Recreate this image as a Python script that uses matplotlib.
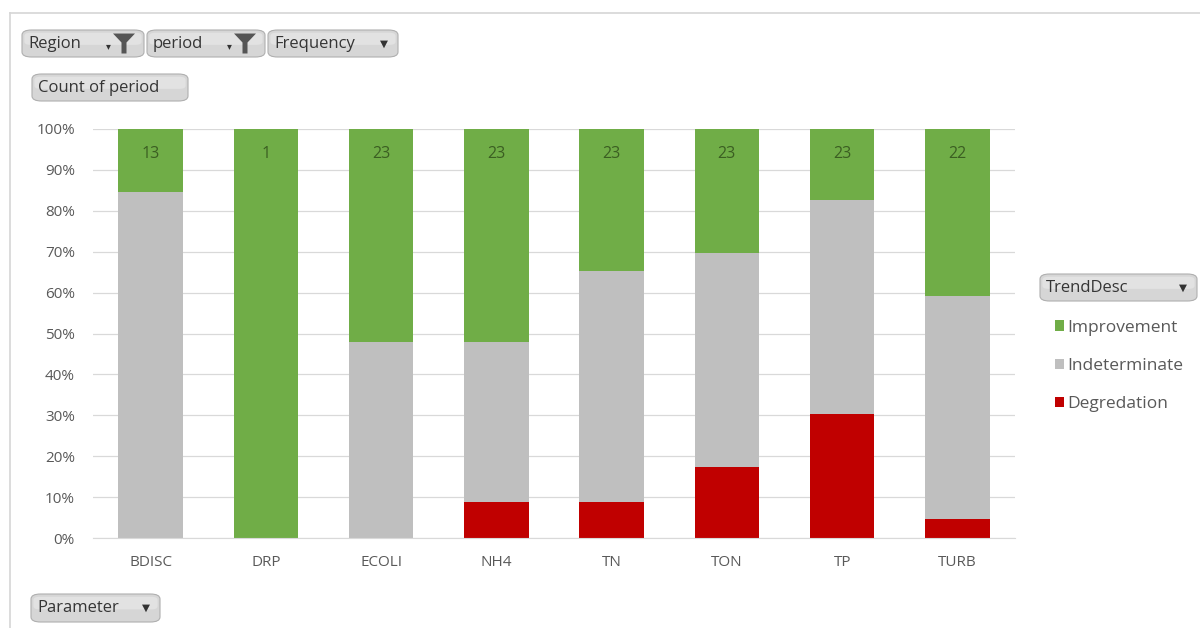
import numpy as np
import matplotlib.pyplot as plt
from matplotlib.patches import FancyBboxPatch, Polygon

# -------- data (counts per trend, from the pivot) ----------
parameters = ["BDISC", "DRP", "ECOLI", "NH4", "TN", "TON", "TP", "TURB"]
degradation = [0, 0, 0, 2, 2, 4, 7, 1]
indeterminate = [11, 0, 11, 9, 13, 12, 12, 12]
improvement = [2, 1, 12, 12, 8, 7, 4, 9]
totals = [13, 1, 23, 23, 23, 23, 23, 22]
y_ticks = [0, 10, 20, 30, 40, 50, 60, 70, 80, 90, 100]
# -----------------------------------------------------------

GREEN = "#70AD47"
GREY = "#BFBFBF"
RED = "#C00000"
W, H = 1200, 628

plt.rcParams['font.family'] = ['Open Sans', 'DejaVu Sans']

fig = plt.figure(figsize=(W / 100, H / 100), dpi=100)


def px(x, y):
    return x / W, 1 - y / H


def button(x0, y0, x1, y1, label, arrow=True, funnel=False):
    a, b = px(x0, y1)
    w, h = (x1 - x0) / W, (y1 - y0) / H
    box = FancyBboxPatch((a, b), w, h, boxstyle="round,pad=0,rounding_size=0.008",
                         transform=fig.transFigure, fc="#D6D6D6", ec="#AFAFAF", lw=0.8)
    fig.patches.append(box)
    # lighter upper half to fake the gradient
    fig.patches.append(FancyBboxPatch((a + 0.002, b + h * 0.45), w - 0.004, h * 0.45,
                                      boxstyle="round,pad=0,rounding_size=0.005",
                                      transform=fig.transFigure, fc="#E2E2E2", ec="none"))
    tx, ty = px(x0 + 6, (y0 + y1) / 2)
    fig.text(tx, ty, label, ha="left", va="center", fontsize=12, color="#353535")
    if funnel:
        cx = x1 - 20
        cy = (y0 + y1) / 2
        pts = [(cx - 11, cy - 10), (cx + 11, cy - 10), (cx + 2.5, cy - 1), (cx + 2.5, cy + 10),
               (cx - 2.5, cy + 10), (cx - 2.5, cy - 1)]
        fig.patches.append(Polygon([px(*p) for p in pts], closed=True,
                                   transform=fig.transFigure, fc="#555555", ec="none"))
        ax_, ay_ = px(cx - 16, cy + 3)
        fig.text(ax_, ay_, "\u25BE", ha="center", va="center", fontsize=7, color="#333333",
                 family="DejaVu Sans")
    elif arrow:
        ax_, ay_ = px(x1 - 14, (y0 + y1) / 2)
        fig.text(ax_, ay_, "\u25BC", ha="center", va="center", fontsize=7.5, color="#333333",
                 family="DejaVu Sans")


# outer frame lines (top and left)
fig.add_artist(plt.Line2D([10 / W, 1], [1 - 13 / H, 1 - 13 / H], transform=fig.transFigure,
                          color="#D6D6D6", lw=1.2))
fig.add_artist(plt.Line2D([10 / W, 10 / W], [0, 1 - 13 / H], transform=fig.transFigure,
                          color="#D6D6D6", lw=1.2))

ax = fig.add_axes([93 / W, (H - 538) / H, (1015 - 93) / W, (538 - 129) / H])

x = np.arange(len(parameters))
tot = np.array(totals, dtype=float)
deg = np.array(degradation) / tot * 100
ind = np.array(indeterminate) / tot * 100
imp = np.array(improvement) / tot * 100

bw = 0.56
ax.bar(x, deg, bw, color=RED, label="Degredation", zorder=2)
ax.bar(x, ind, bw, bottom=deg, color=GREY, label="Indeterminate", zorder=2)
ax.bar(x, imp, bw, bottom=deg + ind, color=GREEN, label="Improvement", zorder=2)

for xi, t, top in zip(x, totals, deg + ind + imp):
    ax.annotate(str(t), (xi, top), xytext=(0, -18), textcoords="offset points",
                ha="center", va="center", fontsize=11.5, color="#3B5E22")

ax.set_xlim(-0.5, len(parameters) - 0.5)
ax.set_ylim(0, 100)
ax.set_yticks(y_ticks)
ax.set_yticklabels([f"{v}%" for v in y_ticks])
ax.set_xticks(x)
ax.set_xticklabels(parameters)
ax.tick_params(axis="both", length=0, labelsize=11, colors="#595959")
ax.tick_params(axis="y", pad=13)
ax.tick_params(axis="x", pad=12)
ax.grid(axis="y", color="#D9D9D9", lw=0.9, zorder=0)
for s in ["top", "right", "left"]:
    ax.spines[s].set_visible(False)
ax.spines["bottom"].set_color("#D9D9D9")

# pivot field buttons
button(22, 30, 144, 57, "Region", funnel=True)
button(147, 30, 265, 57, "period", funnel=True)
button(268, 30, 398, 57, "Frequency")
button(32, 74, 188, 101, "Count of period", arrow=False)
button(31, 594, 160, 622, "Parameter")
button(1040, 274, 1197, 301, "TrendDesc")

# legend
handles, labels = ax.get_legend_handles_labels()
lx, ly = px(1046, 311)
fig.legend(handles[::-1], labels[::-1], loc="upper left", bbox_to_anchor=(lx, ly),
           frameon=False, handlelength=0.55, handleheight=0.55, handletextpad=0.15,
           labelspacing=1.28, fontsize=12.5, labelcolor="#595959", borderpad=0)

fig.savefig("out.png", dpi=100)
